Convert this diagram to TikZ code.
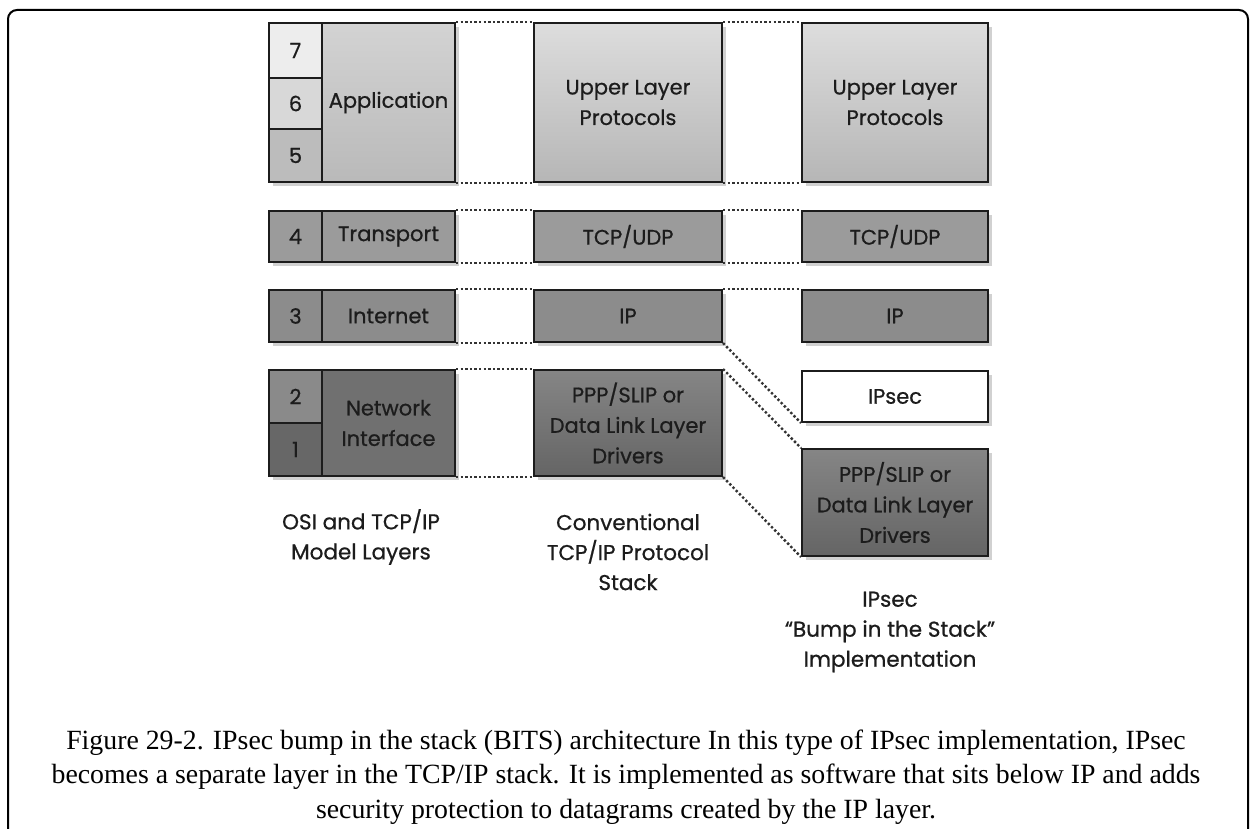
\documentclass[tikz,border=0pt]{standalone}
\usepackage{fontspec}
\setsansfont{Poppins}[FakeBold=0.7]
\setmainfont{Liberation Serif}
\usetikzlibrary{shadows}
\definecolor{ink}{HTML}{1C1C1C}
\definecolor{dotcol}{HTML}{333333}
\definecolor{cellseven}{HTML}{EDEDED}
\definecolor{cellsix}{HTML}{D8D8D8}
\definecolor{cellfive}{HTML}{BCBCBC}
\definecolor{appfill}{HTML}{CECECE}
\definecolor{uppertop}{HTML}{DDDDDD}
\definecolor{upperbot}{HTML}{B6B6B6}
\definecolor{transfill}{HTML}{9B9B9B}
\definecolor{ipfill}{HTML}{8C8C8C}
\definecolor{celltwo}{HTML}{8A8A8A}
\definecolor{linkfill}{HTML}{707070}

\begin{document}
\begin{tikzpicture}[x=1pt,y=-1pt,
  layer/.style={rectangle,draw=ink,line width=2pt,anchor=north west,inner sep=0pt,
    text=ink,font=\sffamily\fontsize{21}{30.5}\selectfont,align=center,
    drop shadow={shadow xshift=4pt,shadow yshift=-4pt,fill=black!18,opacity=1}},
  numcell/.style={layer,minimum width=53pt},
  maincell/.style={layer,minimum width=133pt},
  stackcell/.style={layer,minimum width=188pt},
  bitscell/.style={layer,minimum width=186pt},
  upperbox/.style={top color=uppertop,bottom color=upperbot},
  dotlink/.style={draw=dotcol,line width=2.4pt,dash pattern=on 2.4pt off 2.2pt},
  collab/.style={text=ink,font=\sffamily\fontsize{21.5}{30}\selectfont,align=center}
]
\useasboundingbox (0,0) rectangle (1250,829);
% outer frame, open at the bottom
\draw[line width=2pt,rounded corners=9pt] (8,829) -- (8,10) -- (1248,10) -- (1248,829);

% OSI and TCP/IP model layers
\node[numcell,fill=cellseven,minimum height=55pt] (n7) at (268,22) {7};
\node[numcell,fill=cellsix,minimum height=51pt] (n6) at (268,77) {6};
\node[numcell,fill=cellfive,minimum height=53pt] (n5) at (268,128) {5};
\node[maincell,top color=appfill!90!white,bottom color=appfill!90!black,minimum height=159pt] (app) at (321,22) {Application};
\node[numcell,fill=transfill,minimum height=51pt] (n4) at (268,210) {4};
\node[maincell,fill=transfill,minimum height=51pt] (trans) at (321,210) {Transport};
\node[numcell,fill=ipfill,minimum height=52pt] (n3) at (268,289) {3};
\node[maincell,fill=ipfill,minimum height=52pt] (inet) at (321,289) {Internet};
\node[numcell,fill=celltwo,minimum height=53pt] (n2) at (268,369) {2};
\node[numcell,fill=linkfill!92!black,minimum height=53pt] (n1) at (268,422) {1};
\node[maincell,fill=linkfill,minimum height=106pt] (netif) at (321,369) {Network\\Interface};

% conventional stack
\node[stackcell,upperbox,minimum height=159pt] (upperA) at (533,22) {Upper Layer\\Protocols};
\node[stackcell,fill=transfill,minimum height=51pt] (tcpA) at (533,210) {TCP/UDP};
\node[stackcell,fill=ipfill,minimum height=52pt] (ipA) at (533,289) {IP};
\node[stackcell,top color=linkfill!85!white,bottom color=linkfill!90!black,minimum height=106pt] (pppA) at (533,369) {PPP/SLIP or\\Data Link Layer\\Drivers};

% bump in the stack
\node[bitscell,upperbox,minimum height=159pt] (upperB) at (801,22) {Upper Layer\\Protocols};
\node[bitscell,fill=transfill,minimum height=51pt] (tcpB) at (801,210) {TCP/UDP};
\node[bitscell,fill=ipfill,minimum height=52pt] (ipB) at (801,289) {IP};
\node[bitscell,fill=white,minimum height=51pt] (ipsec) at (801,370) {IPsec};
\node[bitscell,top color=linkfill!85!white,bottom color=linkfill!90!black,minimum height=107pt] (pppB) at (801,448) {PPP/SLIP or\\Data Link Layer\\Drivers};

% dotted links between the stacks
\foreach \a/\b in {app/upperA,trans/tcpA,inet/ipA,netif/pppA,upperA/upperB,tcpA/tcpB,pppA/pppB}{
  \draw[dotlink] (\a.north east) -- (\b.north west);
  \draw[dotlink] (\a.south east) -- (\b.south west);
}
\draw[dotlink] (ipA.north east) -- (ipB.north west);
\draw[dotlink] (ipA.south east) -- (ipsec.south west);

% column labels
\node[collab] (labA) at (361,537) {OSI and TCP/IP\\Model Layers};
\node[collab] (labB) at (628,552) {Conventional\\TCP/IP Protocol\\Stack};
\node[collab] (labC) at (890,632) {IPsec\\“Bump in the Stack”\\Implementation};

% caption
\node[font=\rmfamily\fontsize{27.8}{34.5}\selectfont,align=center] (caption) at (626,777)
  {Figure 29-2. IPsec bump in the stack (BITS) architecture In this type of IPsec implementation, IPsec\\
   becomes a separate layer in the TCP/IP stack. It is implemented as software that sits below IP and adds\\
   security protection to datagrams created by the IP layer.};
\end{tikzpicture}
\end{document}
